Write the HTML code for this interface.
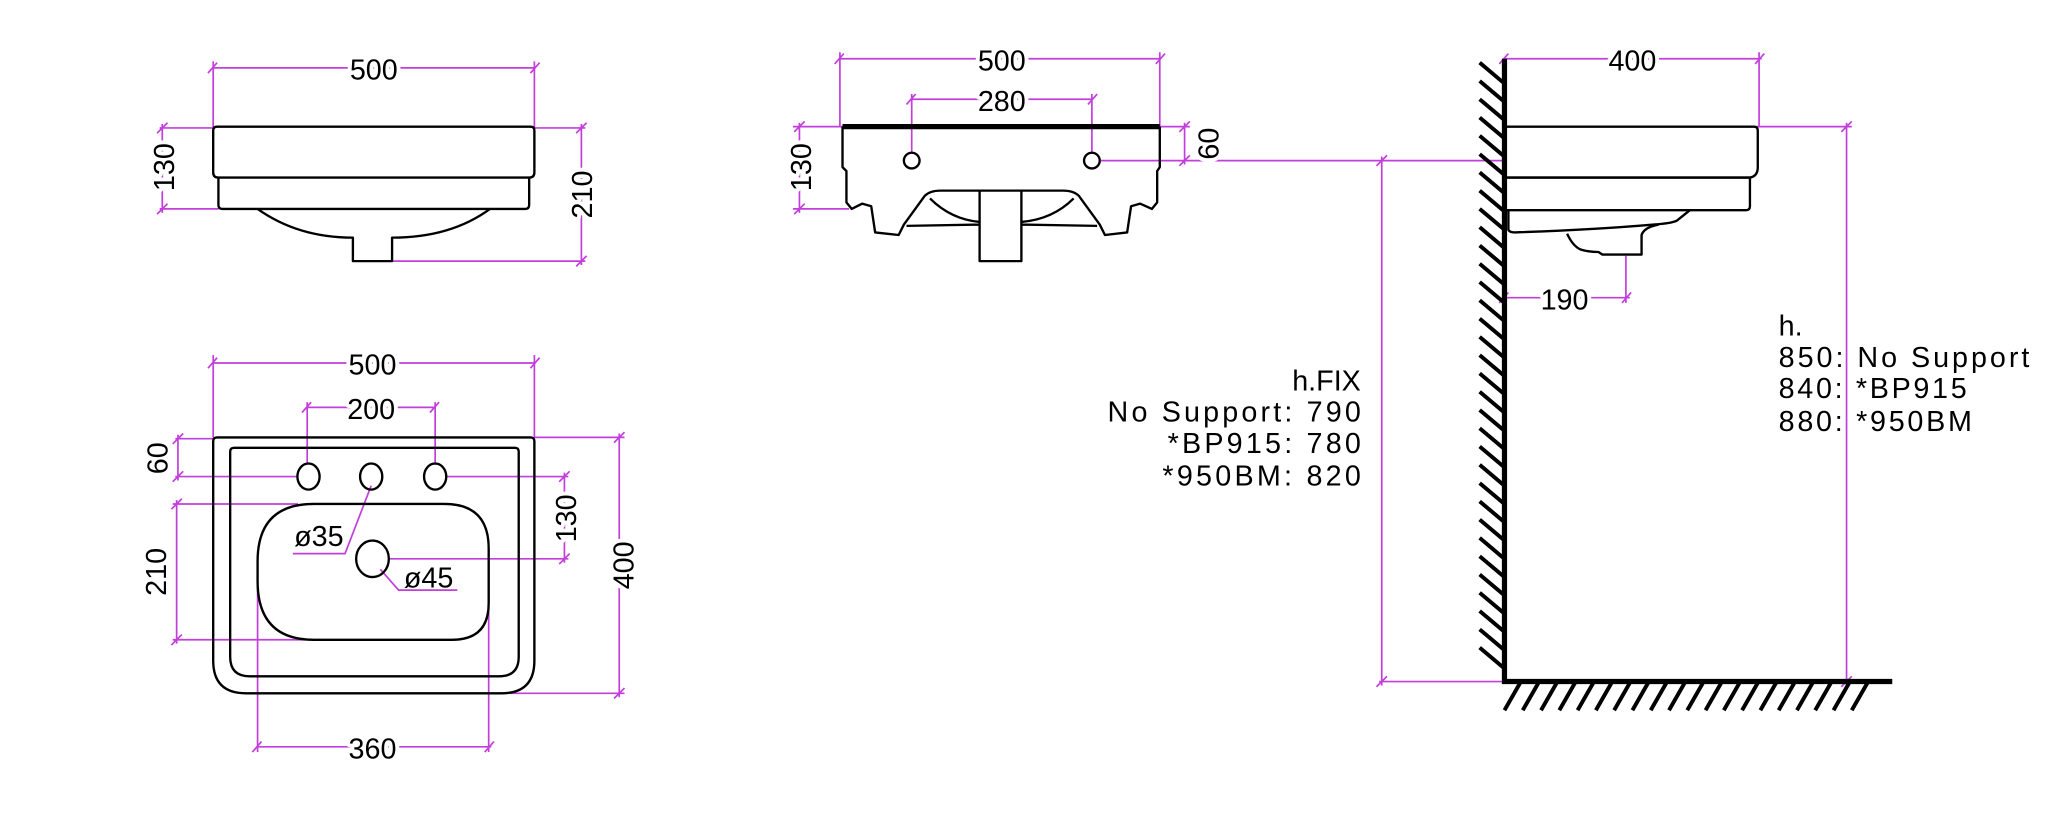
<!DOCTYPE html>
<html><head><meta charset="utf-8"><style>
html,body{margin:0;padding:0;background:#fff;}
svg{display:block}
text{font-family:"Liberation Sans",sans-serif;font-size:22px;fill:#000;}
.t{paint-order:stroke;stroke:#fff;stroke-width:6px;stroke-linejoin:round}
.m{stroke:#c23fdc;stroke-width:1.3;fill:none}
.k{stroke:#000;stroke-width:1.8;fill:none;stroke-linejoin:round}
.K{stroke:#000;stroke-width:4;fill:none}
.h{stroke:#000;stroke-width:3;fill:none}
</style></head><body>
<svg width="2048" height="833" viewBox="0 0 1568 638" xmlns="http://www.w3.org/2000/svg">
<!-- ========== TOP-LEFT FRONT VIEW ========== -->
<g class="m">
<path d="M162,52H410 M163,47V98 M409,47V98 M159,56l7,-8 M406,56l7,-8"/>
<path d="M122,98H163 M122,160H167 M124,95V163 M120,102l8,-8 M120,164l8,-8"/>
<path d="M409,98H448 M300,200H448 M445,95V203 M441,102l8,-8 M441,204l8,-8"/>
</g>
<path class="k" d="M166,97H406Q409,97 409,100V132Q409,136 405,136H167Q163,136 163,132V100Q163,97 166,97Z"/>
<path class="k" d="M167,136V157Q167,160 170,160H402Q405,160 405,157V136"/>
<path class="k" d="M197,160Q228,182 270,182V200H300V182Q345,182 375,160"/>
<text class="t" x="286" y="61" text-anchor="middle">500</text>
<text class="t" transform="translate(133,128) rotate(-90)" text-anchor="middle">130</text>
<text class="t" transform="translate(453,149) rotate(-90)" text-anchor="middle">210</text>

<!-- ========== BOTTOM-LEFT PLAN VIEW ========== -->
<g class="m">
<path d="M162,278H410 M163,272V335 M409,272V335 M159,282l7,-8 M406,282l7,-8"/>
<path d="M235,312H333 M235,308V356 M333,308V356 M231,316l7,-8 M329,316l7,-8"/>
<path d="M134,336H163 M134,365H227 M136,333V368 M132,340l8,-8 M132,369l8,-8"/>
<path d="M132,386H228 M132,490H233 M135,383V493 M131,390l8,-8 M131,494l8,-8"/>
<path d="M342,365H435 M298,428H435 M432,362V431 M428,369l8,-8 M428,432l8,-8"/>
<path d="M409,335H478 M390,531H478 M474,332V534 M470,339l8,-8 M470,535l8,-8"/>
<path d="M196,572H376 M197,430V576 M374,430V576 M193,576l7,-8 M371,576l7,-8"/>
<path d="M284,372L264,424H224 M291,436L305,452H350"/>
</g>
<path class="k" d="M166,335H406Q409,335 409,338V506Q409,531 384,531H188Q163,531 163,506V338Q163,335 166,335Z"/>
<path class="k" d="M179,343H394Q397,343 397,346V503Q397,518 382,518H191Q176,518 176,503V346Q176,343 179,343Z"/>
<path class="k" d="M240,386H340Q374,386 374,420V462Q374,490 346,490H240Q197,490 197,445V430Q197,386 240,386Z"/>
<ellipse class="k" cx="236" cy="365" rx="8.5" ry="10"/>
<ellipse class="k" cx="284" cy="365" rx="8.5" ry="10"/>
<ellipse class="k" cx="333" cy="365" rx="8.5" ry="10"/>
<ellipse class="k" cx="285" cy="428" rx="12.5" ry="14"/>
<text class="t" x="285" y="287" text-anchor="middle">500</text>
<text class="t" x="284" y="321" text-anchor="middle">200</text>
<text x="225" y="418" font-size="21">ø35</text>
<text x="309" y="450" font-size="21">ø45</text>
<text class="t" transform="translate(128,351) rotate(-90)" text-anchor="middle">60</text>
<text class="t" transform="translate(127,438) rotate(-90)" text-anchor="middle">210</text>
<text class="t" transform="translate(441,397) rotate(-90)" text-anchor="middle">130</text>
<text class="t" transform="translate(485,433) rotate(-90)" text-anchor="middle">400</text>
<text class="t" x="285" y="581" text-anchor="middle">360</text>

<!-- ========== MIDDLE SIDE VIEW ========== -->
<g class="m">
<path d="M642,45H889 M643,40V97 M888,40V97 M639,49l7,-8 M885,49l7,-8"/>
<path d="M697,76H837 M698,72V117 M836,72V117 M694,80l7,-8 M833,80l7,-8"/>
<path d="M607,97H645 M607,160H650 M612,94V163 M608,101l8,-8 M608,164l8,-8"/>
<path d="M888,97H911 M843,123H1152 M907,94V126 M903,101l8,-8 M903,127l8,-8"/>
<path d="M1058,120V525 M1056,522H1152 M1054,127l8,-8 M1054,526l8,-8"/>
</g>
<path class="k" d="M645,97V128L648,131V155L652,160L660,156L667,158L670,178L688,180L692,172L708,150Q712,146 720,146H814Q822,146 826,150L842,172L846,180L863,178L866,158L873,156L882,160L886,155V131L888,128V97"/>
<path class="K" d="M645,97H888"/>
<path class="k" d="M750,146V200H782V146 M694,173L750,172 M782,172L840,173 M712,152Q728,168 750,170 M822,152Q806,168 782,170"/>
<circle class="k" cx="698" cy="123" r="6"/>
<circle class="k" cx="836" cy="123" r="6"/>
<text class="t" x="767" y="54" text-anchor="middle">500</text>
<text class="t" x="767" y="85" text-anchor="middle">280</text>
<text class="t" transform="translate(621,128) rotate(-90)" text-anchor="middle">130</text>
<text class="t" transform="translate(933,110) rotate(-90)" text-anchor="middle">60</text>

<!-- h.FIX text -->
<g font-size="21" text-anchor="end">
<text x="1042" y="299">h.FIX</text>
<text x="1042" y="323" textLength="194">No Support:  790</text>
<text x="1042" y="347" textLength="148">*BP915:  780</text>
<text x="1042" y="372" textLength="152">*950BM:  820</text>
</g>

<!-- ========== RIGHT SECTION VIEW ========== -->
<g class="m">
<path d="M1152,45H1349 M1347,40V97 M1148,49l7,-8 M1344,49l7,-8"/>
<path d="M1345,97H1418 M1414,94V525 M1410,101l8,-8 M1410,526l8,-8"/>
<path d="M1152,228H1248 M1245,196V232 M1148,232l7,-8 M1242,232l7,-8"/>
</g>
<path class="k" d="M1152,97H1343Q1346,97 1346,100V128Q1346,135 1340,136H1152"/>
<path class="k" d="M1152,136H1340V158Q1340,161 1337,161H1152"/>
<path class="k" d="M1155,161V176Q1156,178 1160,178Q1220,176 1266,172Q1280,171 1284,169L1294,161"/>
<path class="k" d="M1200,179Q1204,188 1210,191Q1216,193 1224,193L1227,195H1257V180Q1259,174 1270,172"/>
<text class="t" x="1198" y="237" text-anchor="middle">190</text>
<text class="t" x="1250" y="54" text-anchor="middle">400</text>
<g font-size="21">
<text x="1362" y="257">h.</text>
<text x="1362" y="281" textLength="192">850:  No Support</text>
<text x="1362" y="305" textLength="144">840:  *BP915</text>
<text x="1362" y="330" textLength="148">880:  *950BM</text>
</g>
<!-- wall & floor -->
<path class="K" d="M1152,45V522H1449"/>
<g class="h">
<path d="M1133,48l19,16 M1133,62l19,16 M1133,76l19,16 M1133,90l19,16 M1133,104l19,16 M1133,118l19,16 M1133,132l19,16 M1133,146l19,16 M1133,160l19,16 M1133,174l19,16 M1133,188l19,16 M1133,202l19,16 M1133,216l19,16 M1133,230l19,16 M1133,244l19,16 M1133,258l19,16 M1133,272l19,16 M1133,286l19,16 M1133,300l19,16 M1133,314l19,16 M1133,328l19,16 M1133,342l19,16 M1133,356l19,16 M1133,370l19,16 M1133,384l19,16 M1133,398l19,16 M1133,412l19,16 M1133,426l19,16 M1133,440l19,16 M1133,454l19,16 M1133,468l19,16 M1133,482l19,16 M1133,496l19,16"/>
<path d="M1152,544l12,-21 M1166,544l12,-21 M1180,544l12,-21 M1194,544l12,-21 M1208,544l12,-21 M1222,544l12,-21 M1236,544l12,-21 M1250,544l12,-21 M1264,544l12,-21 M1278,544l12,-21 M1292,544l12,-21 M1306,544l12,-21 M1320,544l12,-21 M1334,544l12,-21 M1348,544l12,-21 M1362,544l12,-21 M1376,544l12,-21 M1390,544l12,-21 M1404,544l12,-21 M1418,544l12,-21"/>
</g>
</svg>
</body></html>
